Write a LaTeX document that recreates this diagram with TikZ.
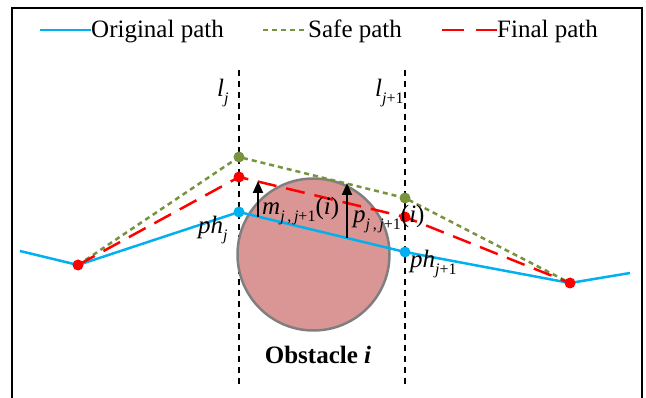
\documentclass[tikz,border=0pt]{standalone}
\usepackage{fontspec}
\setmainfont{Liberation Serif}
\usetikzlibrary{arrows.meta}
\definecolor{origblue}{HTML}{00B0F0}
\definecolor{safegreen}{HTML}{77933C}
\definecolor{finalred}{HTML}{FF0000}
\definecolor{obsfill}{HTML}{D99694}
\definecolor{obsedge}{HTML}{7F7F7F}
\newcommand{\sbs}[1]{\raisebox{-0.25em}{\fontsize{16}{16}\selectfont #1}}

\begin{document}
\begin{tikzpicture}[x=1pt,y=-1pt,
  >={Triangle[length=12pt,width=10pt]},
  orig/.style={draw=origblue,line width=2.5pt},
  safe/.style={draw=safegreen,line width=2.5pt,dash pattern=on 5pt off 4pt},
  final/.style={draw=finalred,line width=2.5pt,dash pattern=on 19pt off 10pt},
  guide/.style={draw=black,line width=1.6pt,dash pattern=on 6pt off 5pt},
  dot/.style={circle,inner sep=0pt,minimum size=11pt},
  lab/.style={font=\fontsize{25}{30}\selectfont,inner sep=0pt,anchor=base west}
]
\useasboundingbox (0,0) rectangle (646,398);
\draw[line width=1.5pt] (12,405) -- (12,8) -- (642,8) -- (642,405);
% legend
\node[lab] (legorig) at (91,38) {Original path};
\node[lab] (legsafe) at (308,38) {Safe path};
\node[lab] (legfinal) at (497,38) {Final path};
\draw[orig] ([xshift=-51pt,yshift=8pt]legorig.base west) -- ([yshift=8pt]legorig.base west);
\draw[safe] ([xshift=-45pt,yshift=8pt]legsafe.base west) -- ([yshift=8pt]legsafe.base west);
\draw[final,dash pattern=on 22pt off 12pt] ([xshift=-55pt,yshift=8pt]legfinal.base west) -- ([yshift=8pt]legfinal.base west);
% guide lines
\coordinate (ljtop) at (239,70);
\coordinate (ljbot) at (239,385);
\coordinate (lktop) at (405,70);
\coordinate (lkbot) at (405,385);
\draw[guide] (ljtop) -- (ljbot);
\draw[guide] (lktop) -- (lkbot);
% obstacle
\node[circle,fill=obsfill,draw=obsedge,line width=2.5pt,minimum size=152pt,inner sep=0pt] (obs) at (313.5,254.5) {};
% path points
\coordinate (o1) at (20,251);
\coordinate (o2) at (78,265);
\coordinate (o3) at (239,212);
\coordinate (o4) at (405,252);
\coordinate (o5) at (570,283);
\coordinate (o6) at (630,273);
\coordinate (s3) at (239,157);
\coordinate (s4) at (405,198);
\coordinate (f3) at (239,177);
\coordinate (f4) at (405,217);
\draw[orig] (o1) -- (o2) -- (o3) -- (o4) -- (o5) -- (o6);
\draw[safe] (o2) -- (s3) -- (s4) -- (o5);
\draw[final] (o2) -- (f3) -- (f4) -- (o5);
\node[dot,fill=origblue] (ph1) at (o3) {};
\node[dot,fill=origblue] (ph2) at (o4) {};
\node[dot,fill=safegreen] (sp1) at (s3) {};
\node[dot,fill=safegreen] (sp2) at (s4) {};
\node[dot,fill=finalred] (fp0) at (o2) {};
\node[dot,fill=finalred] (fp1) at (f3) {};
\node[dot,fill=finalred] (fp2) at (f4) {};
\node[dot,fill=finalred] (fp3) at (o5) {};
% offsets
\coordinate (mbase) at (258,217);
\coordinate (mtip) at (258,181);
\coordinate (pbase) at (347,238);
\coordinate (ptip) at (347,183);
\draw[->,line width=2pt] (mbase) -- (mtip);
\draw[->,line width=2pt] (pbase) -- (ptip);
% labels
\node[lab] (lj) at (217,97) {\textit{l}\sbs{\textit{j}}};
\node[lab] (lk) at (375,97) {\textit{l}\sbs{\textit{j}+1}};
\node[lab] (phj) at (198,234) {\textit{ph}\sbs{\textit{j}}};
\node[lab] (phk) at (410,268) {\textit{ph}\sbs{\textit{j}+1}};
\node[lab] (mlab) at (262,215) {\textit{m}\sbs{\textit{j}\,,\,\textit{j}+1}(\textit{i})};
\node[lab] (plab) at (353,223) {\textit{p}\sbs{\textit{j}\,,\,\textit{j}+1}(\textit{i})};
\node[lab,anchor=base] (obslab) at (318,363) {\textbf{Obstacle \textit{i}}};
\end{tikzpicture}
\end{document}
